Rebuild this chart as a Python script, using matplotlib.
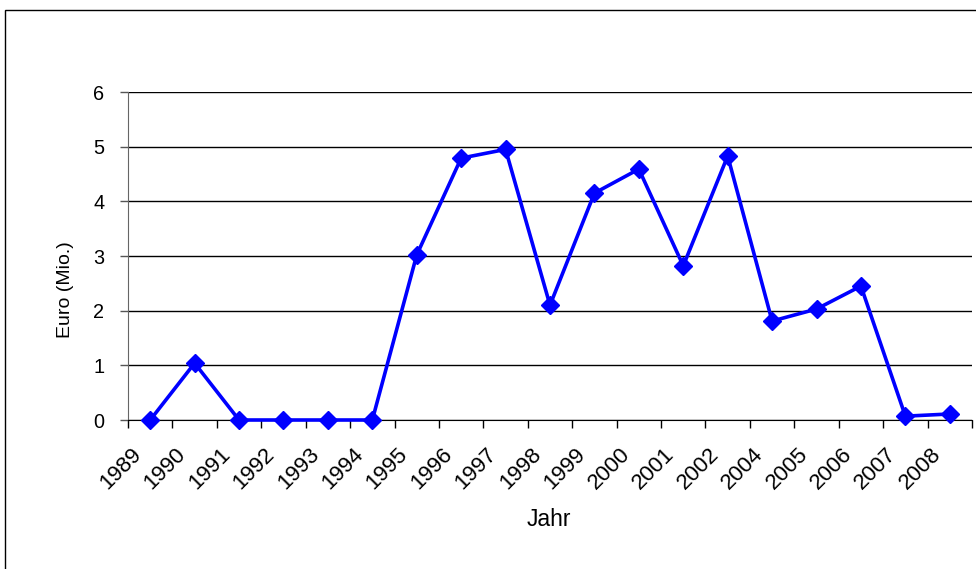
import matplotlib
matplotlib.use("Agg")
import matplotlib.pyplot as plt
from matplotlib.patches import Rectangle
import matplotlib.transforms as mtransforms
import numpy as np

years = ["1989", "1990", "1991", "1992", "1993", "1994", "1995", "1996", "1997", "1998",
         "1999", "2000", "2001", "2002", "2004", "2005", "2006", "2007", "2008"]
values = [0.0, 1.04, 0.0, 0.0, 0.0, 0.0, 3.02, 4.79, 4.95, 2.10,
          4.15, 4.59, 2.82, 4.83, 1.81, 2.03, 2.45, 0.07, 0.11]
yticks = [0, 1, 2, 3, 4, 5, 6]

plt.rcParams['font.family'] = ['Liberation Sans', 'DejaVu Sans']

W, H = 976, 569
fig = plt.figure(figsize=(W / 100, H / 100), dpi=100)
ax = fig.add_axes([128 / W, 1 - 420 / H, (972 - 128) / W, (420 - 92) / H])

x = np.arange(len(years))
ax.plot(x, values, color='#0000ff', lw=2.6, marker='D', markersize=9.5,
        markeredgecolor='#0000ff', zorder=5, clip_on=False)

ax.set_xlim(-0.5, len(years) - 0.5)
ax.set_ylim(0, 6)
ax.set_yticks(yticks)
ax.set_yticklabels([str(v) for v in yticks], fontsize=14.3)
ax.yaxis.grid(True, color='black', lw=1.0)
ax.set_axisbelow(True)

ax.set_xticks(x)
ax.set_xticklabels(years, rotation=45, ha='right', va='center', rotation_mode='anchor', fontsize=16)
ax.tick_params(axis='x', which='major', length=0, pad=22.5)
offset = mtransforms.ScaledTranslation(-12 / 100, 0, fig.dpi_scale_trans)
for lbl in ax.get_xticklabels():
    lbl.set_transform(lbl.get_transform() + offset)
ax.set_xticks(np.arange(-0.5, len(years)), minor=True)
ax.tick_params(axis='x', which='minor', length=6, width=1, color='black', direction='out')
ax.tick_params(axis='y', length=6, width=1, color='#555555', pad=11)

for s in ['top', 'right']:
    ax.spines[s].set_visible(False)
ax.spines['left'].set_color('#666666')
ax.spines['bottom'].set_color('black')

fig.text(65 / W, 1 - 290 / H, "Euro (Mio.)", fontsize=14, ha='center', va='center', rotation=90)
fig.text(549 / W, 1 - 520 / H, "Jahr", fontsize=16.5, ha='center', va='center')

fig.patches.append(Rectangle((5 / W, -0.1), 1.2, 1 - 10 / H + 0.1, transform=fig.transFigure,
                             fill=False, edgecolor='black', lw=1.0))

fig.savefig("out.png", dpi=100)
